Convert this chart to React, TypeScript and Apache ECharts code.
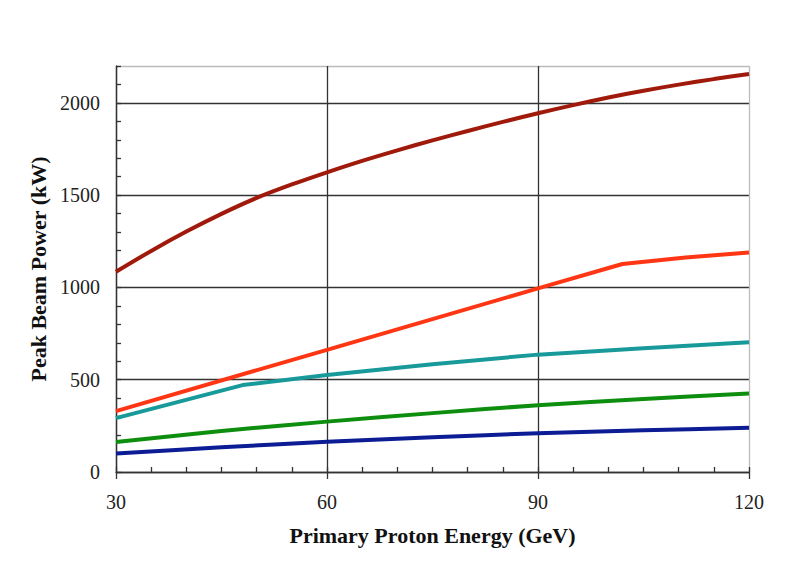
import React, { useEffect, useRef } from "react";
import * as echarts from "echarts";

const xMin = 30;
const xMax = 120;
const yMax = 2200;
const xLabelTicks = [30, 60, 90, 120];
const yLabelTicks = [0, 500, 1000, 1500, 2000];

const seriesNames = ["s1", "s2", "s3", "s4", "s5"];
const seriesColors = ["#A01A0C", "#FF3614", "#199A9A", "#0E8E0E", "#0C1C94"];

const darkRed: [number, number][] = [
  [30, 1085], [35, 1198], [40, 1303], [45, 1399], [50, 1485], [55, 1558],
  [60, 1624], [65, 1686], [70, 1743], [75, 1797], [80, 1848], [85, 1897],
  [90, 1944], [95, 1988], [100, 2029], [105, 2066], [110, 2099], [115, 2129],
  [120, 2157],
];
const red: [number, number][] = [
  [30, 330], [60, 662], [90, 995], [102, 1127], [111, 1162], [120, 1190],
];
const teal: [number, number][] = [
  [30, 292], [48, 471], [60, 526], [75, 584], [90, 636], [105, 670], [120, 703],
];
const green: [number, number][] = [
  [30, 162], [45, 222], [60, 273], [75, 319], [90, 362], [105, 395], [120, 426],
];
const blue: [number, number][] = [
  [30, 100], [45, 134], [60, 164], [75, 188], [90, 210], [105, 226], [120, 240],
];

const allData = [darkRed, red, teal, green, blue];
const smoothFlags = [true, false, false, true, true];

const FONT = "'Liberation Serif', 'Times New Roman', serif";
const GRID = "#333333";
const BORDER = "#bbbbbb";

export default function App() {
  const ref = useRef<HTMLDivElement>(null);
  useEffect(() => {
    if (!ref.current) return;
    const chart = echarts.init(ref.current, null, { renderer: "svg" });

    const xSplitColors = xLabelTicks.map((v) => (v === xMax ? BORDER : GRID));
    const ySplitColors: string[] = [];
    for (let v = 0; v <= yMax; v += 100) {
      if (v === yMax) ySplitColors.push(BORDER);
      else if (yLabelTicks.includes(v)) ySplitColors.push(GRID);
      else ySplitColors.push("rgba(0,0,0,0)");
    }

    chart.setOption({
      animation: false,
      backgroundColor: "#ffffff",
      grid: { left: 116, right: 61, top: 66, bottom: 113, containLabel: false },
      xAxis: [
        {
          type: "value",
          position: "bottom",
          min: xMin,
          max: xMax,
          interval: 30,
          name: "Primary Proton Energy (GeV)",
          nameLocation: "middle",
          nameGap: 52,
          nameTextStyle: { fontFamily: FONT, fontSize: 22, fontWeight: "bold", color: "#111" },
          axisLine: { show: true, lineStyle: { color: GRID, width: 1.3 } },
          axisTick: { show: true, inside: false, length: 7, lineStyle: { color: GRID, width: 1.3 } },
          axisLabel: { fontFamily: FONT, fontSize: 20, color: "#222", margin: 20 },
          splitLine: { show: true, lineStyle: { color: xSplitColors, width: 1.3 } },
        },
        {
          type: "value",
          position: "bottom",
          min: xMin,
          max: xMax,
          interval: 5,
          axisLine: { show: false },
          axisTick: { show: true, inside: true, length: 5, lineStyle: { color: GRID, width: 1.3 } },
          axisLabel: { show: false },
          splitLine: { show: false },
        },
      ],
      yAxis: {
        type: "value",
        min: 0,
        max: yMax,
        interval: 100,
        name: "Peak Beam Power (kW)",
        nameLocation: "middle",
        nameGap: 66,
        nameRotate: 90,
        nameTextStyle: { fontFamily: FONT, fontSize: 22, fontWeight: "bold", color: "#111" },
        axisLine: { show: true, lineStyle: { color: GRID, width: 1.3 } },
        axisTick: { show: true, inside: true, length: 5, lineStyle: { color: GRID, width: 1.3 } },
        axisLabel: {
          fontFamily: FONT,
          fontSize: 20,
          color: "#222",
          margin: 16,
          formatter: (v: number) => (yLabelTicks.includes(v) ? String(v) : ""),
        },
        splitLine: { show: true, lineStyle: { color: ySplitColors, width: 1.3 } },
      },
      series: allData.map((d, i) => ({
        name: seriesNames[i],
        type: "line",
        xAxisIndex: 0,
        data: d,
        smooth: smoothFlags[i] ? 0.3 : false,
        showSymbol: false,
        symbol: "none",
        lineStyle: { color: seriesColors[i], width: 4 },
        itemStyle: { color: seriesColors[i] },
        z: 10 - i,
      })),
    });
    return () => chart.dispose();
  }, []);
  return (
    <div
      ref={ref}
      style={{ position: "absolute", left: 0, top: 0, width: 810, height: 585 }}
    />
  );
}
